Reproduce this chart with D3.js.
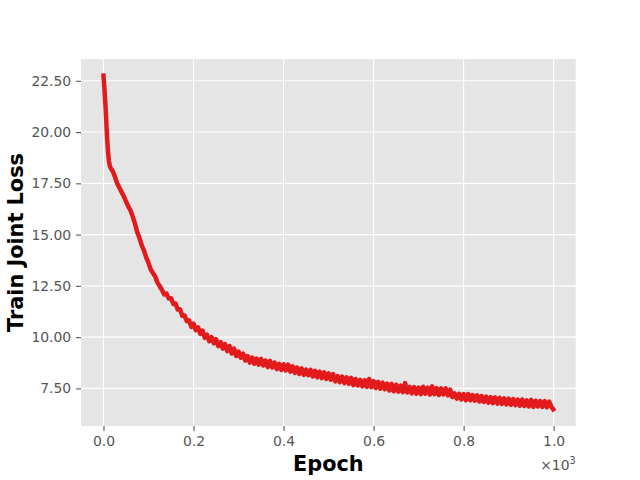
<!DOCTYPE html>
<html>
<head>
<meta charset="utf-8">
<script src="https://cdn.jsdelivr.net/npm/d3@7"></script>
<style>
html,body{margin:0;padding:0;background:#fff;}
svg{display:block;}
</style>
</head>
<body>
<svg id="chart" width="640" height="480"></svg>
<script>
// ---- data ----
const epochs = [0,2,4,6,8,10,12,14,16,20,25,30,35,40,45,50,55,60,65,70,75,80,85,90,95,100,
105,110,115,120,125,130,135,140,145,150,155,160,165,170,175,180,185,190,195,200,
205,210,215,220,225,230,235,240,245,250,255,260,265,270,275,280,285,290,295,300,
305,310,315,320,325,330,335,340,345,350,355,360,365,370,375,380,385,390,395,400,
405,410,415,420,425,430,435,440,445,450,455,460,465,470,475,480,485,490,495,500,
505,510,515,520,525,530,535,540,545,550,555,560,565,570,575,580,585,590,595,600,
605,610,615,620,625,630,635,640,645,650,655,660,665,670,675,680,685,690,695,700,
705,710,715,720,725,730,735,740,745,750,755,760,765,770,775,780,785,790,795,800,
805,810,815,820,825,830,835,840,845,850,855,860,865,870,875,880,885,890,895,900,
905,910,915,920,925,930,935,940,945,950,955,960,965,970,975,980,985,990,995,999];
const trainJointLoss = [22.75,22.15,21.45,20.6,19.75,19.05,18.6,18.35,18.25,18.12,17.85,17.52,17.3,17.08,16.88,16.62,16.38,16.18,15.88,15.52,15.12,14.82,14.48,14.22,13.88,13.62,
13.3,13.12,12.95,12.66,12.48,12.3,12.08,12.12,11.88,11.9,11.62,11.64,11.34,11.36,11.04,11.06,10.78,10.82,10.5,10.66,
10.34,10.48,10.16,10.32,9.96,10.12,9.8,10.0,9.7,9.9,9.56,9.76,9.44,9.66,9.32,9.56,9.2,9.44,9.08,9.3,
9.0,9.2,8.86,9.08,8.76,9.0,8.7,8.96,8.66,8.94,8.62,8.86,8.54,8.84,8.52,8.76,8.44,8.7,8.4,8.68,
8.38,8.66,8.32,8.58,8.26,8.52,8.2,8.48,8.16,8.42,8.14,8.4,8.08,8.36,8.04,8.32,8.0,8.28,7.96,8.24,
7.92,8.2,7.84,8.1,7.8,8.08,7.76,8.04,7.72,8.02,7.66,7.96,7.64,7.92,7.6,7.9,7.58,7.96,7.56,7.86,
7.52,7.82,7.48,7.78,7.46,7.74,7.4,7.72,7.36,7.68,7.34,7.64,7.32,7.76,7.3,7.58,7.26,7.56,7.24,7.54,
7.22,7.58,7.24,7.54,7.2,7.6,7.22,7.52,7.18,7.5,7.2,7.5,7.16,7.44,7.08,7.26,7.0,7.24,6.96,7.22,
6.92,7.22,6.92,7.18,6.9,7.16,6.86,7.12,6.84,7.1,6.8,7.08,6.78,7.06,6.76,7.04,6.74,7.02,6.72,7.0,
6.7,6.98,6.68,6.96,6.66,6.96,6.64,6.92,6.62,6.94,6.6,6.9,6.62,6.88,6.6,6.88,6.58,6.86,6.6,6.48];
const xTickValues = [0,200,400,600,800,1000];
const xTickLabels = ["0.0","0.2","0.4","0.6","0.8","1.0"];
const yTickValues = [7.5,10,12.5,15,17.5,20,22.5];
const xLabel = "Epoch";
const yLabel = "Train Joint Loss";

// ---- layout ----
const W = 640, H = 480;
const m = {left: 81, right: 575.7, top: 59, bottom: 426};
const svg = d3.select("#chart");
svg.append("rect").attr("width", W).attr("height", H).attr("fill", "#fff");

const xExt = d3.extent(epochs), yExt = d3.extent(trainJointLoss);
const xPad = (xExt[1]-xExt[0])*0.05, yPad = (yExt[1]-yExt[0])*0.05;
const x = d3.scaleLinear().domain([xExt[0]-xPad, xExt[1]+xPad]).range([m.left, m.right]);
const y = d3.scaleLinear().domain([yExt[0]-yPad, yExt[1]+yPad]).range([m.bottom, m.top]);

svg.append("rect").attr("x", m.left).attr("y", m.top)
  .attr("width", m.right-m.left).attr("height", m.bottom-m.top).attr("fill", "#E5E5E5");

// grid
const g = svg.append("g");
g.selectAll(".vg").data(xTickValues).enter().append("line")
  .attr("x1", d=>x(d)).attr("x2", d=>x(d)).attr("y1", m.top).attr("y2", m.bottom)
  .attr("stroke", "#fff").attr("stroke-width", 1.1);
g.selectAll(".hg").data(yTickValues).enter().append("line")
  .attr("x1", m.left).attr("x2", m.right).attr("y1", d=>y(d)).attr("y2", d=>y(d))
  .attr("stroke", "#fff").attr("stroke-width", 1.1);

const font = "'DejaVu Sans', sans-serif";

// axes
const xAxis = d3.axisBottom(x).tickValues(xTickValues)
  .tickFormat((d,i)=>xTickLabels[i]).tickSize(4.9).tickPadding(4.9);
const xa = svg.append("g").attr("transform", `translate(0,${m.bottom})`).call(xAxis);
const yAxis = d3.axisLeft(y).tickValues(yTickValues)
  .tickFormat(d3.format(".2f")).tickSize(4.9).tickPadding(4.9);
const ya = svg.append("g").attr("transform", `translate(${m.left},0)`).call(yAxis);
[xa, ya].forEach(a=>{
  a.select(".domain").remove();
  a.selectAll(".tick line").attr("stroke", "#555").attr("stroke-width", 1.1);
  a.selectAll(".tick text").attr("fill", "#555").style("font-family", font).style("font-size", "13.9px");
});
xa.selectAll(".tick text").attr("dy", "0.76em");

// line
const line = d3.line().x((d,i)=>x(epochs[i])).y(d=>y(d));
svg.append("path").datum(trainJointLoss)
  .attr("d", line).attr("fill", "none").attr("stroke", "#E31A1C")
  .attr("stroke-width", 4.5).attr("stroke-linejoin", "round").attr("stroke-linecap", "square");

// labels
svg.append("text").attr("x", (m.left+m.right)/2).attr("y", 471)
  .attr("text-anchor", "middle").style("font-family", font).style("font-size", "20.8px")
  .style("font-weight", "bold").attr("fill", "#000").text(xLabel);
svg.append("text").attr("transform", `translate(22.5,${(m.top+m.bottom)/2}) rotate(-90)`)
  .attr("text-anchor", "middle").style("font-family", font).style("font-size", "20.8px")
  .style("font-weight", "bold").attr("fill", "#000").text(yLabel);

// offset text ×10^3
const off = svg.append("text").attr("x", m.right).attr("y", 470).attr("text-anchor", "end")
  .style("font-family", font).style("font-size", "13.9px").attr("fill", "#555");
off.append("tspan").text("\u00d710");
off.append("tspan").attr("dy", -6).style("font-size", "9.7px").text("3");
</script>
</body>
</html>
